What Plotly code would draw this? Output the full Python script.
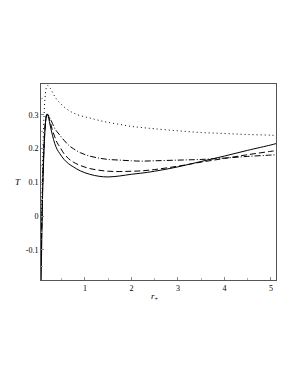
import plotly.graph_objects as go

r_plus = [0.058, 0.07, 0.08, 0.09, 0.10, 0.12, 0.14, 0.16, 0.18, 0.2, 0.22, 0.25, 0.3, 0.35, 0.4,
          0.46, 0.55, 0.65, 0.75, 0.9, 1.1, 1.3, 1.5, 1.75, 2.0, 2.2, 2.5, 3.0, 3.5, 4.0, 4.5, 5.0, 5.11]

T_solid = [-0.19, -0.08, 0.0, 0.07, 0.12, 0.2, 0.255, 0.29, 0.303, 0.3, 0.29, 0.27, 0.24, 0.215, 0.198,
           0.185, 0.168, 0.155, 0.146, 0.134, 0.124, 0.118, 0.116, 0.119, 0.124, 0.127, 0.133, 0.146,
           0.162, 0.178, 0.195, 0.211, 0.215]
T_dashed = [-0.12, -0.04, 0.03, 0.09, 0.14, 0.21, 0.26, 0.29, 0.302, 0.301, 0.295, 0.28, 0.255, 0.235,
            0.218, 0.205, 0.185, 0.17, 0.16, 0.15, 0.141, 0.136, 0.133, 0.132, 0.133, 0.134, 0.138,
            0.148, 0.16, 0.171, 0.182, 0.192, 0.194]
T_dashdot = [-0.1, -0.02, 0.05, 0.1, 0.15, 0.22, 0.265, 0.29, 0.3, 0.302, 0.298, 0.29, 0.275, 0.26,
             0.25, 0.24, 0.225, 0.21, 0.2, 0.188, 0.178, 0.172, 0.168, 0.166, 0.164, 0.163, 0.164,
             0.166, 0.168, 0.172, 0.177, 0.181, 0.182]
T_dotted = [-0.11, 0.0, 0.09, 0.16, 0.22, 0.3, 0.35, 0.375, 0.386, 0.388, 0.386, 0.38, 0.368, 0.355,
            0.345, 0.336, 0.324, 0.314, 0.306, 0.298, 0.291, 0.284, 0.278, 0.272, 0.266, 0.263, 0.259,
            0.253, 0.248, 0.245, 0.242, 0.24, 0.239]

x_ticks = [1, 2, 3, 4, 5]
y_ticks = [-0.1, 0, 0.1, 0.2, 0.3]
y_ticktext = ["-0.1", "0", "0.1", "0.2", "0.3"]

fig = go.Figure()
for ys, dash in [(T_dotted, "1px,3px"), (T_dashdot, "6px,2px,1px,2px"),
                 (T_dashed, "6px,3px"), (T_solid, "solid")]:
    fig.add_trace(go.Scatter(x=r_plus, y=ys, mode="lines",
                             line=dict(color="black", width=1, dash=dash, shape="spline"),
                             showlegend=False, hoverinfo="skip"))

font = dict(family="Liberation Serif", size=8, color="black")
fig.update_layout(
    width=298, height=385,
    margin=dict(l=33, r=30, t=76, b=113),
    paper_bgcolor="white", plot_bgcolor="white",
    font=font,
)
fig.update_xaxes(range=[0.054, 5.11], tickvals=x_ticks, ticks="inside", ticklen=3,
                 tickcolor="#888", showgrid=False, zeroline=False, showline=True,
                 linecolor="#555", linewidth=1, mirror=True, automargin=False,
                 minor=dict(dtick=0.5, tick0=0, ticks="inside", ticklen=2, tickcolor="#aaa"))
fig.update_yaxes(range=[-0.19, 0.392], tickvals=y_ticks, ticktext=y_ticktext, ticks="inside",
                 ticklen=3, tickcolor="#888", showgrid=False, zeroline=False, showline=True,
                 linecolor="#555", linewidth=1, mirror=True, automargin=False,
                 minor=dict(dtick=0.05, tick0=0, ticks="inside", ticklen=2, tickcolor="#aaa"))
fig.add_annotation(text="<i>T</i>", xref="paper", yref="paper", x=-0.1, y=0.5,
                   xanchor="center", yanchor="middle", showarrow=False,
                   font=dict(family="Liberation Serif", size=9, color="black"))
fig.add_annotation(text="<i>r</i><sub>+</sub>", xref="x", yref="paper", x=2.5, y=-0.085,
                   xanchor="center", yanchor="middle", showarrow=False,
                   font=dict(family="Liberation Serif", size=9, color="black"))
fig.write_html("out.html")
